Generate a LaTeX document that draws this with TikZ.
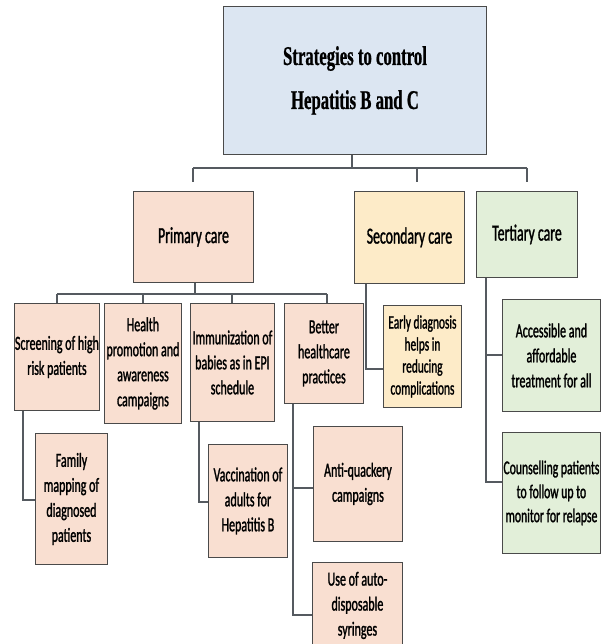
\documentclass[tikz,border=0pt]{standalone}
\usepackage{fontspec}
\setmainfont{Carlito}[FakeStretch=0.6,FakeBold=1.3]
\newfontfamily\titlefont{Liberation Serif}[FakeStretch=0.62,FakeBold=0.8]
\definecolor{rootfill}{HTML}{DCE6F2}
\definecolor{peach}{HTML}{F9DFD1}
\definecolor{yellowfill}{HTML}{FDEBC8}
\definecolor{greenfill}{HTML}{E2EFD9}
\definecolor{edge}{HTML}{4A4A4A}
\definecolor{linecol}{HTML}{555A60}
\begin{document}
\begin{tikzpicture}[x=1pt,y=-1pt,
  box/.style={draw=edge,line width=0.9pt,inner sep=0pt,align=center,anchor=north west,text=black},
  small/.style={font=\fontsize{20}{25}\selectfont},
  mid/.style={font=\fontsize{23}{28}\selectfont},
  conn/.style={draw=linecol,line width=1.2pt}]
\clip (0,0) rectangle (602,644);
\fill[white] (0,0) rectangle (602,644);
% root
\node[box,fill=rootfill,minimum width=263pt,minimum height=148pt,
  font=\titlefont\bfseries\fontsize{27}{44}\selectfont] (root) at (223,6) {Strategies to control\\Hepatitis B and C};
% level 1
\node[box,mid,fill=peach,minimum width=120pt,minimum height=91pt] (primary) at (133,191) {Primary care};
\node[box,mid,fill=yellowfill,minimum width=110pt,minimum height=92pt] (secondary) at (354,191) {Secondary care};
\node[box,mid,fill=greenfill,minimum width=101pt,minimum height=86pt] (tertiary) at (476,191) {Tertiary care};
% level 2
\node[box,small,fill=peach,minimum width=85pt,minimum height=107pt] (screening) at (14,303) {Screening of high\\risk patients};
\node[box,small,fill=peach,minimum width=77pt,minimum height=120pt] (health) at (104,303) {Health\\promotion and\\awareness\\campaigns};
\node[box,small,fill=peach,minimum width=84pt,minimum height=118pt] (immun) at (190,303) {Immunization of\\babies as in EPI\\schedule};
\node[box,small,fill=peach,minimum width=79pt,minimum height=100pt] (better) at (284,303) {Better\\healthcare\\practices};
\node[box,fill=yellowfill,minimum width=78pt,minimum height=102pt,font=\fontsize{19}{22}\selectfont] (early) at (383,305) {Early diagnosis\\helps in\\reducing\\complications};
\node[box,small,fill=greenfill,minimum width=98pt,minimum height=112pt] (access) at (502,299) {Accessible and\\affordable\\treatment for all};
\node[box,fill=greenfill,minimum width=98pt,minimum height=121pt,font=\fontsize{19.5}{24}\selectfont] (counsel) at (502,432) {Counselling patients\\to follow up to\\monitor for relapse};
% level 3
\node[box,small,fill=peach,minimum width=72pt,minimum height=131pt] (family) at (35,433) {Family\\mapping of\\diagnosed\\patients};
\node[box,small,fill=peach,minimum width=79pt,minimum height=113pt] (vacc) at (208,444) {Vaccination of\\adults for\\Hepatitis B};
\node[box,small,fill=peach,minimum width=89pt,minimum height=115pt] (antiq) at (313,426) {Anti-quackery\\campaigns};
\node[box,small,fill=peach,minimum width=90pt,minimum height=86pt] (syringes) at (312,562) {Use of auto-\\disposable\\syringes};
% connectors root -> level 1
\coordinate (j0) at (352,168);
\coordinate (jp) at (193,168);
\coordinate (js) at (417,168);
\coordinate (jt) at (527,168);
\coordinate (dp) at (193,182);
\coordinate (ds) at (417,182);
\coordinate (dt) at (527,182);
\draw[conn] (root.south -| j0) -- (j0);
\draw[conn] (jp) -- (jt);
\draw[conn] (jp) -- (dp);
\draw[conn] (js) -- (ds);
\draw[conn] (jt) -- (dt);
% primary -> children
\coordinate (k0) at (195,294);
\coordinate (k1) at (57,294);
\coordinate (k2) at (143,294);
\coordinate (k3) at (232,294);
\coordinate (k4) at (327,294);
\draw[conn] (primary.south -| k0) -- (k0);
\draw[conn] (k1) -- (k4);
\draw[conn] (k1) -- (screening.north -| k1);
\draw[conn] (k2) -- (health.north -| k2);
\draw[conn] (k3) -- (immun.north -| k3);
\draw[conn] (k4) -- (better.north -| k4);
% secondary -> early
\coordinate (s1) at (366,369);
\draw[conn] (secondary.south -| s1) |- (early.west |- s1);
% tertiary -> children
\coordinate (t1) at (486,355);
\coordinate (t2) at (486,482);
\draw[conn] (tertiary.south -| t2) -- (t2) -- (counsel.west |- t2);
\draw[conn] (t1) -- (access.west |- t1);
% screening -> family
\coordinate (f1) at (23,500);
\draw[conn] (screening.south -| f1) -- (f1) -- (family.west |- f1);
% immunization -> vaccination
\coordinate (v1) at (199,502);
\draw[conn] (immun.south -| v1) -- (v1) -- (vacc.west |- v1);
% better -> children
\coordinate (b1) at (293,488);
\coordinate (b2) at (293,615);
\draw[conn] (better.south -| b2) -- (b2) -- (syringes.west |- b2);
\draw[conn] (b1) -- (antiq.west |- b1);
\end{tikzpicture}
\end{document}
